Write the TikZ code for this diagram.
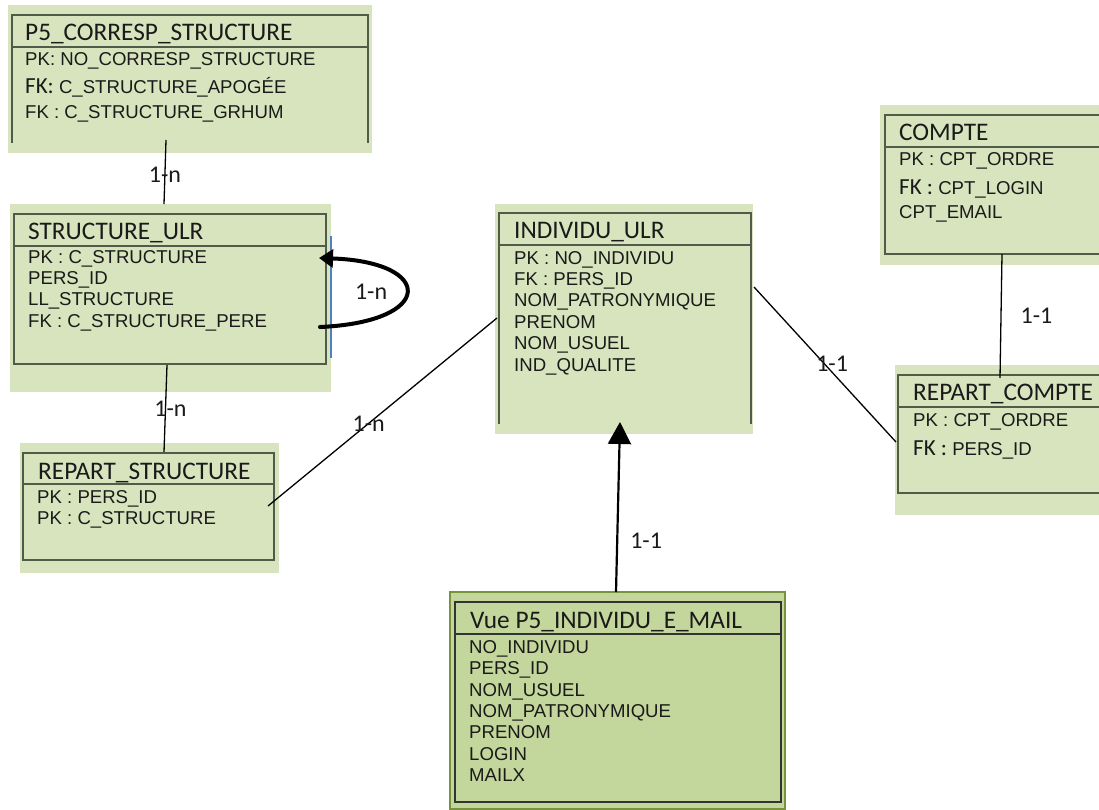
\documentclass[tikz,border=0pt]{standalone}
\usepackage{fontspec}
\setmainfont{Liberation Sans}
\newfontfamily\hdfont{Carlito}
\usetikzlibrary{arrows.meta, positioning, calc}
\definecolor{bgGreen}{HTML}{D7E4BD}
\definecolor{vueGreen}{HTML}{C3D69B}
\definecolor{vueBorder}{HTML}{77933C}
\definecolor{frameGray}{HTML}{505C47}
\definecolor{loopBlue}{HTML}{4F81BD}
\definecolor{txtGray}{HTML}{1A1A1A}
\newcommand{\fieldSize}{18.6}
\newcommand{\rowSkip}{21.4}
\newcommand{\bigFK}[1]{{\hdfont\fontsize{23}{21}\selectfont #1}}

\tikzset{
  entity/.style={rectangle, fill=bgGreen, inner sep=0pt, outer sep=0pt},
  frame/.style={draw=frameGray, line width=1.2pt},
  title/.style={anchor=base west, inner sep=0pt, text=txtGray,
    font=\hdfont\fontsize{25.3}{25.3}\selectfont},
  fields/.style={anchor=north west, inner sep=0pt, align=left, text=txtGray,
    font=\fontsize{\fieldSize}{\rowSkip}\selectfont},
  link/.style={draw=black, line width=1.3pt},
  card/.style={inner sep=0pt, text=txtGray, font=\hdfont\fontsize{24}{24}\selectfont}
}

\begin{document}
\begin{tikzpicture}[x=1pt, y=-1pt]
\useasboundingbox (0,0) rectangle (1099,809);

% P5_CORRESP_STRUCTURE
\node[entity, minimum width=364pt, minimum height=148pt] (Corresp) at (190,79) {};
\draw[frame] (12,143) -- (12,15) -- (368,15) -- (368,143);
\draw[frame] (12,47) -- (368,47);
\node[title] (CorrespT) at (25,40) {P5\_CORRESP\_STRUCTURE};
\node[fields] (CorrespF) at (25,52) {PK: NO\_CORRESP\_STRUCTURE\\[6.6pt]
  \bigFK{FK:} C\_STRUCTURE\_APOGÉE\\[3.6pt] FK : C\_STRUCTURE\_GRHUM};

% STRUCTURE_ULR
\node[entity, minimum width=321pt, minimum height=188pt] (StructUlr) at (170.5,298) {};
\draw[frame] (14,214) rectangle (326,364);
\draw[frame] (14,246) -- (326,246);
\node[title] (StructUlrT) at (28,239) {STRUCTURE\_ULR};
\node[fields] (StructUlrF) at (28,250) {PK : C\_STRUCTURE\\PERS\_ID\\LL\_STRUCTURE\\FK : C\_STRUCTURE\_PERE};
\draw[loopBlue, line width=1.5pt] ([yshift=-32pt]StructUlr.north east) -- ([yshift=34pt]StructUlr.south east);

% REPART_STRUCTURE
\node[entity, minimum width=259pt, minimum height=130pt] (RepStruct) at (149.5,508) {};
\draw[frame] (23,453) rectangle (274,560);
\draw[frame] (23,484) -- (274,484);
\node[title] (RepStructT) at (38,479) {REPART\_STRUCTURE};
\node[fields] (RepStructF) at (37,490) {PK : PERS\_ID\\PK : C\_STRUCTURE};

% INDIVIDU_ULR
\node[entity, minimum width=258pt, minimum height=230pt] (Individu) at (624,319) {};
\draw[frame] (499,424) -- (499,213) -- (751,213) -- (751,424);
\draw[frame] (499,245) -- (751,245);
\node[title] (IndividuT) at (514,238) {INDIVIDU\_ULR};
\node[fields] (IndividuF) at (514,251) {PK : NO\_INDIVIDU\\FK : PERS\_ID\\NOM\_PATRONYMIQUE\\PRENOM\\NOM\_USUEL\\IND\_QUALITE};

% COMPTE
\node[entity, minimum width=219pt, minimum height=160pt] (Compte) at (989.5,185) {};
\draw[frame] (1099,115) -- (885,115) -- (885,254) -- (1099,254);
\draw[frame] (885,147) -- (1099,147);
\node[title] (CompteT) at (899,140) {COMPTE};
\node[fields] (CompteF) at (899,152) {PK : CPT\_ORDRE\\[7.6pt]
  \bigFK{FK :} CPT\_LOGIN\\[2.6pt] CPT\_EMAIL};

% REPART_COMPTE
\node[entity, minimum width=204pt, minimum height=150pt] (RepCompte) at (997,440) {};
\draw[frame] (1099,375) -- (898,375) -- (898,493) -- (1099,493);
\draw[frame] (898,407) -- (1099,407);
\node[title] (RepCompteT) at (913,400) {REPART\_COMPTE};
\node[fields] (RepCompteF) at (913,413) {PK : CPT\_ORDRE\\[7.6pt] \bigFK{FK :} PERS\_ID};

% Vue P5_INDIVIDU_E_MAIL
\node[entity, fill=vueGreen, draw=vueBorder, line width=2pt, minimum width=335pt, minimum height=217pt] (Vue) at (617.5,700.5) {};
\draw[frame, draw=black!80] (455,602) rectangle (781,802);
\draw[frame, draw=black!80] (455,634) -- (781,634);
\node[title] (VueT) at (470,628) {Vue P5\_INDIVIDU\_E\_MAIL};
\node[fields] (VueF) at (469,640) {NO\_INDIVIDU\\PERS\_ID\\NOM\_USUEL\\NOM\_PATRONYMIQUE\\PRENOM\\LOGIN\\MAILX};

% liens
\draw[link] ([xshift=-24pt,yshift=13pt]Corresp.south) -- node[card, pos=0.55] (L1) {1-n} ([xshift=-6.5pt]StructUlr.north);
\draw[link] ([xshift=-3.5pt,yshift=27pt]StructUlr.south) -- node[card, xshift=5pt] (L2) {1-n} ([xshift=14.5pt,yshift=-9pt]RepStruct.north);
\draw[link] ([xshift=-11pt,yshift=2pt]RepStruct.east) -- node[card, pos=0.44] (L3) {1-n} ([xshift=2pt,yshift=1pt]Individu.west);
\draw[link] ([xshift=1pt,yshift=32pt]Individu.east) -- node[card, pos=0.55, yshift=8pt] (L4) {1-1} ([xshift=1pt,yshift=-2pt]RepCompte.west);
\draw[link] ([xshift=12.5pt,yshift=11pt]Compte.south) -- node[card, right=19pt] (L5) {1-1} ([xshift=3pt,yshift=-13pt]RepCompte.north);
\draw[link, line width=2.2pt, -{Triangle[length=22pt, width=23pt]}] ([xshift=-1.5pt]Vue.north) -- node[card, pos=0.3, right=12pt] (L6) {1-1} ([xshift=-4pt,yshift=12pt]Individu.south);
\draw[line width=4pt, line cap=round, -{Triangle[length=14pt, width=18pt]}] ([xshift=-11pt,yshift=-29pt]StructUlr.east)
  .. controls +(115,-5) and +(116,4) .. node[card, pos=0.5, left=17pt] (L0) {1-n} ([xshift=-12pt,yshift=40pt]StructUlr.east);

\end{tikzpicture}
\end{document}
